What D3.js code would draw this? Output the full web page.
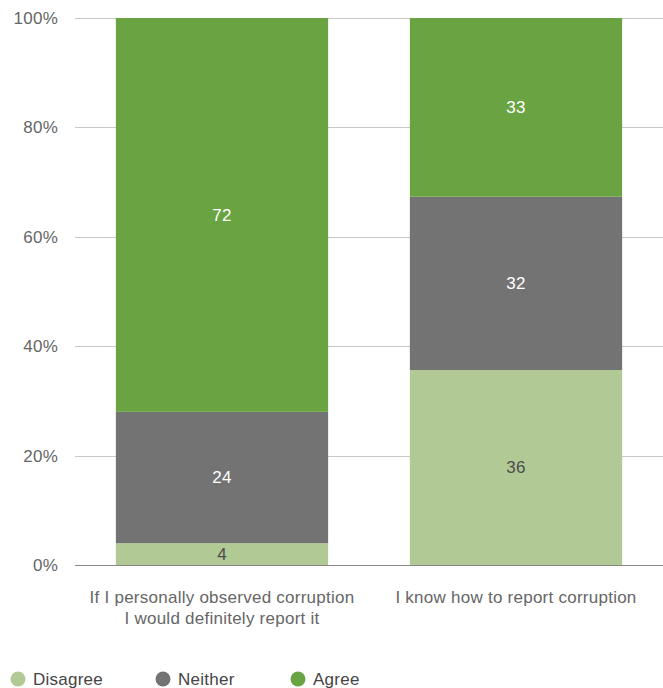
<!DOCTYPE html>
<html><head><meta charset="utf-8">
<script src="https://cdn.jsdelivr.net/npm/d3@7"></script>
<style>body{margin:0;background:#fff;font-family:"Liberation Sans",Arial,sans-serif;} text{letter-spacing:0.25px;}</style>
</head><body>
<svg id="c" width="663" height="688"></svg>
<script>
const categories = ["If I personally observed corruption\nI would definitely report it", "I know how to report corruption"];
const seriesNames = ["Disagree", "Neither", "Agree"];
const disagree = [4, 36];
const neither = [24, 32];
const agree = [72, 33];
const yTicks = [0, 0.2, 0.4, 0.6, 0.8, 1.0];
const colors = ["#b1c994", "#737373", "#6aa341"];
const labelColors = ["#4d4d4d", "#ffffff", "#ffffff"];

(function () {
const svg = d3.select("#c");
const mLeft = 75, mRight = 663, mTop = 18, mBottom = 565;
const x = d3.scaleBand().domain(categories).range([mLeft, mRight]).paddingInner(0.278).paddingOuter(0.139);
const y = d3.scaleLinear().domain([0, 1]).range([mBottom, mTop]);

const rows = categories.map((c, i) => ({cat: c, Disagree: disagree[i], Neither: neither[i], Agree: agree[i]}));
const stack = d3.stack().keys(seriesNames).offset(d3.stackOffsetExpand);
const series = stack(rows);

svg.append("g").selectAll("line").data(yTicks).join("line")
  .attr("x1", mLeft).attr("x2", mRight)
  .attr("y1", d => Math.round(y(d)) + 0.5).attr("y2", d => Math.round(y(d)) + 0.5)
  .attr("stroke", d => d === 0 ? "#888" : "#c8c8c8").attr("stroke-width", 1);

svg.append("g").selectAll("text").data(yTicks).join("text")
  .attr("x", 58).attr("y", d => y(d)).attr("dy", "0.35em")
  .attr("text-anchor", "end").attr("fill", "#666").attr("font-size", 17)
  .text(d => d3.format(".0%")(d));

series.forEach((s, si) => {
  const g = svg.append("g");
  g.selectAll("rect").data(s).join("rect")
    .attr("x", d => x(d.data.cat)).attr("width", x.bandwidth())
    .attr("y", d => y(d[1])).attr("height", d => y(d[0]) - y(d[1]))
    .attr("fill", colors[si]);
  g.selectAll("text").data(s).join("text")
    .attr("x", d => x(d.data.cat) + x.bandwidth() / 2)
    .attr("y", d => (y(d[0]) + y(d[1])) / 2).attr("dy", "0.35em")
    .attr("text-anchor", "middle").attr("font-size", 17).attr("fill", labelColors[si])
    .text(d => d.data[seriesNames[si]]);
});

categories.forEach(c => {
  const lines = c.split("\n");
  const cx = x(c) + x.bandwidth() / 2;
  const t = svg.append("text").attr("x", cx).attr("y", 603)
    .attr("text-anchor", "middle").attr("font-size", 17).attr("fill", "#666");
  lines.forEach((l, i) => t.append("tspan").attr("x", cx).attr("dy", i === 0 ? 0 : 21).text(l));
});

const legX = [18, 163, 298];
const leg = svg.append("g").selectAll("g").data(seriesNames).join("g")
  .attr("transform", (d, i) => `translate(${legX[i]},679)`);
leg.append("circle").attr("r", 7.5).attr("fill", (d, i) => colors[i]);
leg.append("text").attr("x", 15).attr("dy", "0.35em").attr("font-size", 17).attr("fill", "#444").text(d => d);
})();
</script>
</body></html>
